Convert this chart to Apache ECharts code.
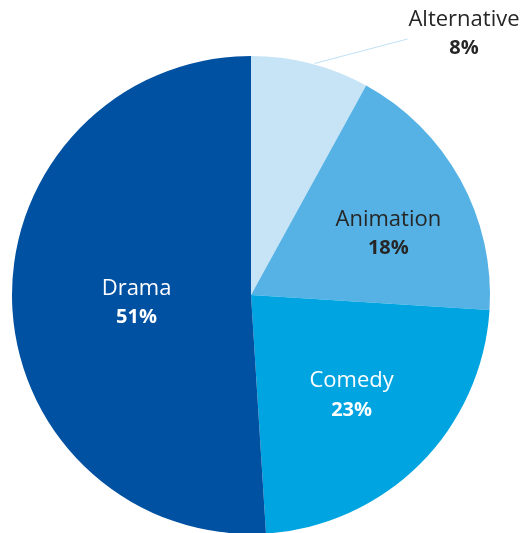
<!DOCTYPE html>
<html>
<head>
<meta charset="utf-8">
<script src="https://cdn.jsdelivr.net/npm/echarts@6/dist/echarts.min.js"></script>
<style>
  html, body { margin: 0; padding: 0; background: #ffffff; }
  #chart { width: 524px; height: 533px; }
</style>
</head>
<body>
<div id="chart"></div>
<script>
// Genre share, clockwise from 12 o'clock
const genres = ['Alternative', 'Animation', 'Comedy', 'Drama'];
const shares = [8, 18, 23, 51];
const sliceColors = ['#c6e4f6', '#56b2e5', '#00a4e0', '#0051a1'];
const labelColors = ['#262626', '#262626', '#ffffff', '#ffffff'];

const FONT = '"Open Sans", sans-serif';

// nudges applied to the inside labels
const labelShift = {
  Animation: [30, -2],
  Comedy: [14, 14],
  Drama: [8, 4]
};
// where the small-slice callout sits
const calloutPos = [464, 34];

const data = genres.map((g, i) => ({
  name: g,
  value: shares[i],
  itemStyle: { color: sliceColors[i] },
  label: {
    position: i === 0 ? 'outside' : 'inside',
    rich: {
      n: { color: labelColors[i], fontSize: 22, fontFamily: FONT, lineHeight: 29 },
      p: { color: labelColors[i], fontSize: 20, fontWeight: 'bold', fontFamily: FONT, lineHeight: 29 }
    }
  },
  labelLine: { show: i === 0 }
}));

const chart = echarts.init(document.getElementById('chart'), null, { renderer: 'canvas' });
chart.setOption({
  animation: false,
  series: [{
    type: 'pie',
    center: [251, 295],
    radius: [0, 239],
    startAngle: 90,
    clockwise: true,
    avoidLabelOverlap: false,
    data: data,
    label: {
      show: true,
      formatter: '{n|{b}}\n{p|{c}%}',
      align: 'center'
    },
    labelLine: {
      show: true,
      length: 10,
      length2: 30,
      smooth: false,
      lineStyle: { color: '#bfe0f5', width: 1 }
    },
    labelLayout: function (params) {
      if (params.dataIndex === 0) {
        // straight leader from the slice edge to the left side of the callout
        const start = params.labelLinePoints ? params.labelLinePoints[0] : null;
        const w = params.labelRect.width;
        const out = {
          x: calloutPos[0], y: calloutPos[1],
          align: 'center', verticalAlign: 'middle'
        };
        if (start) {
          out.labelLinePoints = [
            [start[0] + 4, start[1]],
            [calloutPos[0] - w / 2 - 1, calloutPos[1] + 5]
          ];
        }
        return out;
      }
      const s = labelShift[genres[params.dataIndex]];
      return { dx: s[0], dy: s[1] };
    }
  }]
});
</script>
</body>
</html>
